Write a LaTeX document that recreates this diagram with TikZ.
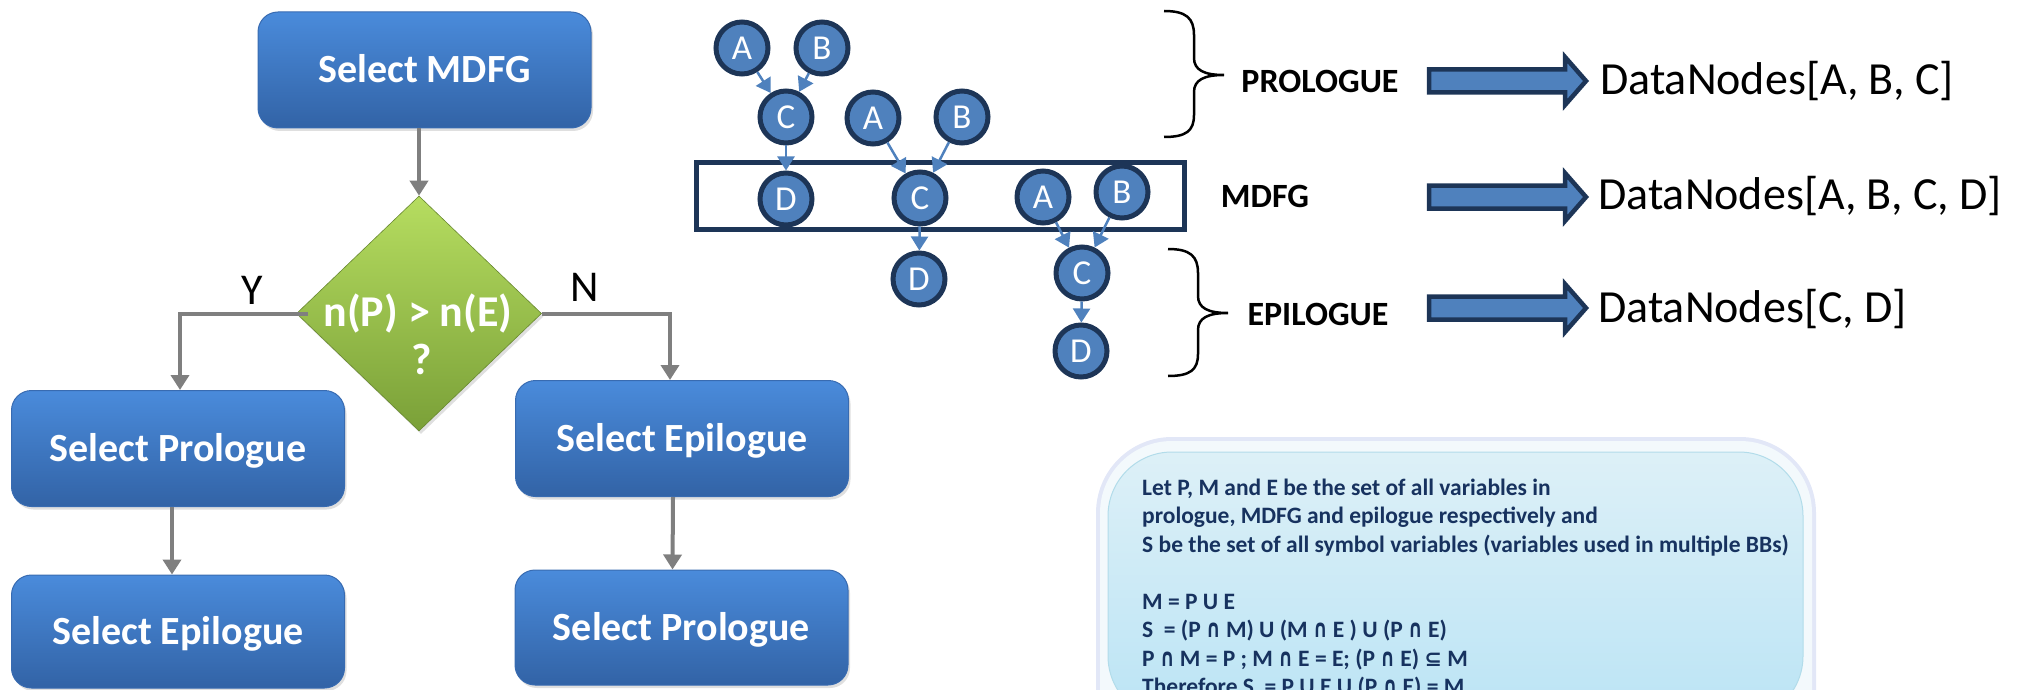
\documentclass[tikz,border=0pt]{standalone}
\usepackage{fontspec}
\usepackage{graphicx}
\setmainfont{Carlito}
\newfontfamily\opfont{DejaVu Sans}
\usetikzlibrary{shapes.geometric,arrows.meta,shadows,calc}

\definecolor{boxtop}{HTML}{4A8BDB}
\definecolor{boxbot}{HTML}{3263A6}
\definecolor{boxedge}{HTML}{386BB1}
\definecolor{dectop}{HTML}{B6DD60}
\definecolor{decbot}{HTML}{7AA038}
\definecolor{flowgray}{HTML}{7F7F7F}
\definecolor{dnfill}{HTML}{4F81BD}
\definecolor{dnedge}{HTML}{1D3557}
\definecolor{notetext}{HTML}{17325F}
\definecolor{notetop}{HTML}{DDF0F7}
\definecolor{notebot}{HTML}{BBE4F5}
\definecolor{noterim}{HTML}{E2E7F7}
\definecolor{noteband}{HTML}{F3F9FC}
\definecolor{noteedge}{HTML}{B2DCEA}

% set operators taken from DejaVu Sans, narrowed to sit with the text
\newcommand\isect{{\opfont\fontsize{25}{28.5}\selectfont\scalebox{0.72}[1]{∩}}}
\newcommand\subeq{{\opfont\fontsize{21}{28.5}\selectfont ⊆}}

\begin{document}
\begin{tikzpicture}[x=1pt,y=-1pt,
  flowbox/.style={rectangle, rounded corners=20pt, minimum width=333pt,
    minimum height=116pt, inner sep=0pt, top color=boxtop, bottom color=boxbot,
    draw=boxedge, line width=1pt, text=white,
    font=\fontsize{40}{48}\selectfont\bfseries, text height=25.5pt, text depth=0pt,
    drop shadow={shadow xshift=2pt, shadow yshift=-3pt, opacity=0.25}},
  decbox/.style={diamond, minimum width=245pt, minimum height=235pt, inner sep=0pt,
    top color=dectop, bottom color=decbot, draw=decbot!85!black, line width=0.6pt,
    drop shadow={shadow xshift=2pt, shadow yshift=-3pt, opacity=0.25}},
  ftext/.style={text=white, font=\fontsize{44}{52}\selectfont\bfseries,
    text height=28pt, text depth=0pt, inner sep=0pt},
  yn/.style={font=\fontsize{44}{52}\selectfont, text=black, text height=28pt,
    text depth=0pt, inner sep=0pt},
  flowarrow/.style={draw=flowgray, line width=4pt, -{Triangle[width=18pt,length=15pt]}},
  dn/.style={circle, minimum size=52pt, inner sep=0pt, fill=dnfill, draw=dnedge,
    line width=5pt, text=white, font=\fontsize{35}{40}\selectfont,
    text height=22.5pt, text depth=0pt},
  dnarrow/.style={draw=dnfill, line width=2.5pt, -{Triangle[width=17pt,length=14pt]}},
  mdfgrect/.style={rectangle, draw=dnedge, line width=5pt, minimum width=488pt,
    minimum height=67pt, inner sep=0pt},
  lbl/.style={font=\fontsize{34}{40}\selectfont\bfseries, text=black,
    text height=21.9pt, text depth=0pt, inner sep=0pt},
  dlist/.style={font=\fontsize{46}{54}\selectfont, text=black, text height=29.5pt,
    text depth=0pt, inner sep=0pt, anchor=west},
  bracepath/.style={draw=black, line width=2.5pt},
  notebox/.style={rectangle, rounded corners=64pt, minimum width=695pt,
    minimum height=268pt, inner sep=0pt, top color=notetop, bottom color=notebot,
    draw=noteedge, line width=1pt},
  notefont/.style={font=\fontsize{23.5}{28.5}\selectfont\bfseries, text=notetext,
    inner sep=0pt},
  blockarrow/.pic={\draw[line width=4.5pt, draw=dnedge, fill=dnfill, line join=miter]
    (0,-11.5) -- (136,-11.5) -- (136,-24) -- (157,0) -- (136,24) -- (136,11.5)
    -- (0,11.5) -- cycle;}
]
\useasboundingbox (0,0) rectangle (2021,690);
\clip (0,0) rectangle (2021,690);

% ---------------- flow chart ----------------
\node[flowbox] (sMDFG) at (424.5,70) {Select MDFG};
\node[decbox] (dec) at (419,313.5) {};
\node[flowbox] (sProL) at (178,448.5) {Select Prologue};
\node[flowbox, minimum height=113pt] (sEpiL) at (178,631.5) {Select Epilogue};
\node[flowbox] (sEpiR) at (682,438.5) {Select Epilogue};
\node[flowbox, minimum height=115pt] (sProR) at (681.5,627.5) {Select Prologue};

\draw[flowarrow] (sMDFG.south -| dec.north) -- (dec.north);
\coordinate (yk) at (180,313.5);
\coordinate (nk) at (670,313.5);
\draw[flowarrow] ([xshift=12pt]dec.west) -- (yk) -- (yk |- sProL.north);
\draw[flowarrow] (dec.east) -- (nk) -- (nk |- sEpiR.north);
\draw[flowarrow] ([xshift=-6pt]sProL.south) -- ([xshift=-6pt]sEpiL.north);
\draw[flowarrow] ([xshift=-9pt]sEpiR.south) -- ([xshift=-9pt]sProR.north);

\node[ftext] (decq1) at (418,312) {n(P) > n(E)};
\node[ftext] (decq2) at (422,360) {?};
\node[yn] (lblY) at (252,290) {Y};
\node[yn] (lblN) at (585,287) {N};

% ---------------- data flow graph ----------------
\node[mdfgrect] (mdfg) at (940.5,196) {};

\node[dn] (a1) at (742,48) {A};
\node[dn] (b1) at (822,48) {B};
\node[dn] (c1) at (786,117) {C};
\node[dn] (d1) at (786,199) {D};
\node[dn] (a2) at (873,118) {A};
\node[dn] (b2) at (962,117) {B};
\node[dn] (c2) at (920,198) {C};
\node[dn] (d2) at (919,279) {D};
\node[dn] (a3) at (1043,197) {A};
\node[dn] (b3) at (1122,192) {B};
\node[dn] (c3) at (1082,273) {C};
\node[dn] (d3) at (1081,351) {D};

\draw[dnarrow] (a1) -- (c1);
\draw[dnarrow] (b1) -- (c1);
\draw[dnarrow] (c1) -- (d1);
\draw[dnarrow] (a2) -- (c2);
\draw[dnarrow] (b2) -- (c2);
\draw[dnarrow] (c2) -- (d2);
\draw[dnarrow] (a3) -- (c3);
\draw[dnarrow] (b3) -- (c3);
\draw[dnarrow] (c3) -- (d3);

% braces
\draw[bracepath] (1164,11) .. controls (1186,11) and (1194,18) .. (1194,35)
  -- (1194,58) .. controls (1194,70) and (1204,75) .. (1224,75)
  .. controls (1204,75) and (1194,80) .. (1194,92)
  -- (1194,115) .. controls (1194,131) and (1186,137) .. (1164,137);
\draw[bracepath] (1168,249) .. controls (1190,249) and (1198,256) .. (1198,273)
  -- (1198,296) .. controls (1198,308) and (1208,313) .. (1228,313)
  .. controls (1208,313) and (1198,318) .. (1198,330)
  -- (1198,354) .. controls (1198,370) and (1190,376) .. (1168,376);

% region labels, block arrows and data node lists
\node[lbl] (lblPro) at (1320,82) {PROLOGUE};
\node[lbl] (lblMd) at (1265,197) {MDFG};
\node[lbl] (lblEpi) at (1318,315) {EPILOGUE};

\pic at (1429,81) {blockarrow};
\pic at (1429,197) {blockarrow};
\pic at (1429,308) {blockarrow};

\node[dlist] (dnPro) at (1600,80) {DataNodes[A, B, C]};
\node[dlist] (dnMd) at (1598,195) {DataNodes[A, B, C, D]};
\node[dlist] (dnEpi) at (1598,308) {DataNodes[C, D]};

% ---------------- note ----------------
\fill[noterim, rounded corners=76pt] (1096,437) rectangle (1816,780);
\fill[noteband, rounded corners=72pt] (1100,441) rectangle (1812,780);
\node[notebox] (note) at (1455.5,586) {};
\node[notefont, anchor=north west, align=left] (notetxt) at (1142,478.5)
  {Let P, M and E be the set of all variables in\\
   prologue, MDFG and epilogue respectively and\\
   S be the set of all symbol variables (variables used in multiple BBs)\\[28.5pt]
   M = P U E\\
   S\ \ = (P \isect{} M) U (M \isect{} E ) U (P \isect{} E)\\
   P \isect{} M = P ; M \isect{} E = E; (P \isect{} E) \subeq{} M\\
   Therefore S\ \ = P U E U (P \isect{} E) = M};
\end{tikzpicture}
\end{document}
